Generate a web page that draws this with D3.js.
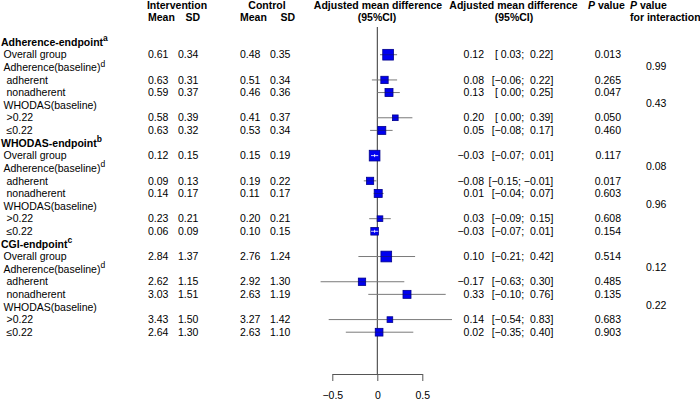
<!DOCTYPE html>
<html><head><meta charset="utf-8">
<script src="https://cdn.jsdelivr.net/npm/d3@7"></script>
<style>
body{margin:0;background:#fff;}
svg{font-family:"Liberation Sans",Arial,Helvetica,sans-serif;}
text{white-space:pre;}
</style></head>
<body><svg id="c" width="700" height="400"></svg>
<script>
// ---- data ----
const labels = ["Adherence-endpoint","Overall group","Adherence(baseline)","adherent","nonadherent","WHODAS(baseline)",">0.22","≤0.22",
"WHODAS-endpoint","Overall group","Adherence(baseline)","adherent","nonadherent","WHODAS(baseline)",">0.22","≤0.22",
"CGI-endpoint","Overall group","Adherence(baseline)","adherent","nonadherent","WHODAS(baseline)",">0.22","≤0.22"];
const levels = [0,1,1,2,2,1,2,2, 0,1,1,2,2,1,2,2, 0,1,1,2,2,1,2,2];
const supers = ["a","","d","","","","","", "b","","d","","","","","", "c","","d","","","","",""];
const intMean = [null,0.61,null,0.63,0.59,null,0.58,0.63, null,0.12,null,0.09,0.14,null,0.23,0.06, null,2.84,null,2.62,3.03,null,3.43,2.64];
const intSD   = [null,0.34,null,0.31,0.37,null,0.39,0.32, null,0.15,null,0.13,0.17,null,0.21,0.09, null,1.37,null,1.15,1.51,null,1.50,1.30];
const ctlMean = [null,0.48,null,0.51,0.46,null,0.41,0.53, null,0.15,null,0.19,0.11,null,0.20,0.10, null,2.76,null,2.92,2.63,null,3.27,2.63];
const ctlSD   = [null,0.35,null,0.34,0.36,null,0.37,0.34, null,0.19,null,0.22,0.17,null,0.21,0.15, null,1.24,null,1.30,1.19,null,1.42,1.10];
const est     = [null,0.12,null,0.08,0.13,null,0.20,0.05, null,-0.03,null,-0.08,0.01,null,0.03,-0.03, null,0.10,null,-0.17,0.33,null,0.14,0.02];
const lower   = [null,0.03,null,-0.06,0.00,null,0.00,-0.08, null,-0.07,null,-0.15,-0.04,null,-0.09,-0.07, null,-0.21,null,-0.63,-0.10,null,-0.54,-0.35];
const upper   = [null,0.22,null,0.22,0.25,null,0.39,0.17, null,0.01,null,-0.01,0.07,null,0.15,0.01, null,0.42,null,0.30,0.76,null,0.83,0.40];
const pval    = [null,"0.013",null,"0.265","0.047",null,"0.050","0.460", null,"0.117",null,"0.017","0.603",null,"0.608","0.154", null,"0.514",null,"0.485","0.135",null,"0.683","0.903"];
const weight  = [null,100,null,47,56,null,28,56, null,100,null,45,56,null,28,50, null,100,null,47,56,null,28,52];
const pInter  = [null,null,"0.99",null,null,"0.43",null,null, null,null,"0.08",null,null,"0.96",null,null, null,null,"0.12",null,null,"0.22",null,null];
const xTicks = [-0.5, 0, 0.5];

// ---- drawing ----
const svg = d3.select("#c");
const FS = 10.5;
const n = labels.length;
const yBase = d3.scaleLinear().domain([0, n-1]).range([45.8, 335.9]);
const x = d3.scaleLinear().domain([-0.5, 0.5]).range([332.3, 422.3]);
const boxSize = d3.scaleSqrt().domain([0, 100]).range([0, 10.7]);
const indent = [1, 3.5, 6.5];
const fmt = v => (v < 0 ? "\u2212" : "") + Math.abs(v).toFixed(2);
const pad = v => (v < 0 ? "\u2212" : " ") + Math.abs(v).toFixed(2);

function t(xp, yp, str, anchor, bold) {
  return svg.append("text").attr("x", xp).attr("y", yp).attr("text-anchor", anchor || "start")
    .attr("font-size", FS).attr("font-weight", bold ? "bold" : "normal").attr("fill", "#000").text(str);
}

// headers
const h1 = 8.5, h2 = 20.7;
t(177, h1, "Intervention", "middle", true);
t(148, h2, "Mean", "start", true);
t(200, h2, "SD", "end", true);
t(267, h1, "Control", "middle", true);
t(240, h2, "Mean", "start", true);
t(295, h2, "SD", "end", true);
t(378, h1, "Adjusted mean difference", "middle", true);
t(377, h2, "(95%CI)", "middle", true);
t(513.5, h1, "Adjusted mean difference", "middle", true);
t(514, h2, "(95%CI)", "middle", true);
const pv = t(588, h1, "", "start", true);
pv.append("tspan").attr("font-style", "italic").text("P");
pv.append("tspan").text(" value");
const pv2 = t(630, h1, "", "start", true);
pv2.append("tspan").attr("font-style", "italic").text("P");
pv2.append("tspan").text(" value");
t(630, h2, "for interaction", "start", true);

// row labels
labels.forEach((lab, i) => {
  const y = yBase(i);
  const tx = t(indent[levels[i]], y, "", "start", levels[i] === 0);
  tx.append("tspan").text(lab);
  if (supers[i]) tx.append("tspan").attr("font-size", 8.5).attr("dy", -4.5).text(supers[i]);
});

// numeric columns
d3.range(n).forEach(i => {
  const y = yBase(i);
  if (intMean[i] != null) {
    t(148, y, intMean[i].toFixed(2));
    t(178, y, intSD[i].toFixed(2));
    t(240, y, ctlMean[i].toFixed(2));
    t(270, y, ctlSD[i].toFixed(2));
    t(484, y, fmt(est[i]), "end");
    const lowS = "[" + pad(lower[i]) + ";";
    const upS = (upper[i] < 0 ? " \u2212" : "  ") + Math.abs(upper[i]).toFixed(2) + "]";
    t(553.3, y, lowS + upS, "end");
    t(621, y, pval[i], "end");
  }
  if (pInter[i] != null) t(646, y - 1.5, pInter[i]);
});

// zero line
svg.append("line").attr("x1", x(0)).attr("x2", x(0)).attr("y1", 27).attr("y2", 374)
  .attr("stroke", "#333").attr("stroke-width", 1);

// axis
const axis = d3.axisBottom(x).tickValues(xTicks).tickSize(7).tickSizeOuter(0).tickPadding(10.7)
  .tickFormat(d => d === 0 ? "0" : (d < 0 ? "\u2212" : "") + Math.abs(d).toFixed(1));
const ag = svg.append("g").attr("transform", "translate(0,374)").call(axis);
ag.selectAll("path,line").attr("stroke", "#555");
ag.selectAll("text").attr("font-size", FS).attr("fill", "#000")
  .attr("font-family", "Liberation Sans, Arial, sans-serif");

// forest marks
const marks = d3.range(n).filter(i => est[i] != null);
marks.forEach(i => {
  const cy = yBase(i) - 3.7;
  const s = boxSize(weight[i]);
  const cx = x(est[i]);
  const inside = x(lower[i]) >= cx - s/2 && x(upper[i]) <= cx + s/2;
  if (!inside) {
    svg.append("line").attr("x1", x(lower[i])).attr("x2", x(upper[i])).attr("y1", cy).attr("y2", cy)
      .attr("stroke", "#7a7a7a").attr("stroke-width", 1);
  }
  svg.append("rect").attr("x", cx - s/2).attr("y", cy - s/2).attr("width", s).attr("height", s)
    .attr("fill", "#0000f0").attr("stroke", "#00008b").attr("stroke-width", 0.8);
  if (inside) {
    svg.append("line").attr("x1", x(lower[i])).attr("x2", x(upper[i])).attr("y1", cy).attr("y2", cy)
      .attr("stroke", "#fff").attr("stroke-width", 0.8);
    svg.append("line").attr("x1", cx).attr("x2", cx).attr("y1", cy - 1.5).attr("y2", cy + 1.5)
      .attr("stroke", "#fff").attr("stroke-width", 0.8);
  } else {
    svg.append("line").attr("x1", Math.max(x(lower[i]), cx - s/2)).attr("x2", Math.min(x(upper[i]), cx + s/2))
      .attr("y1", cy).attr("y2", cy).attr("stroke", "#222").attr("stroke-width", 0.8).attr("opacity", 0.5);
  }
});
</script></body></html>
